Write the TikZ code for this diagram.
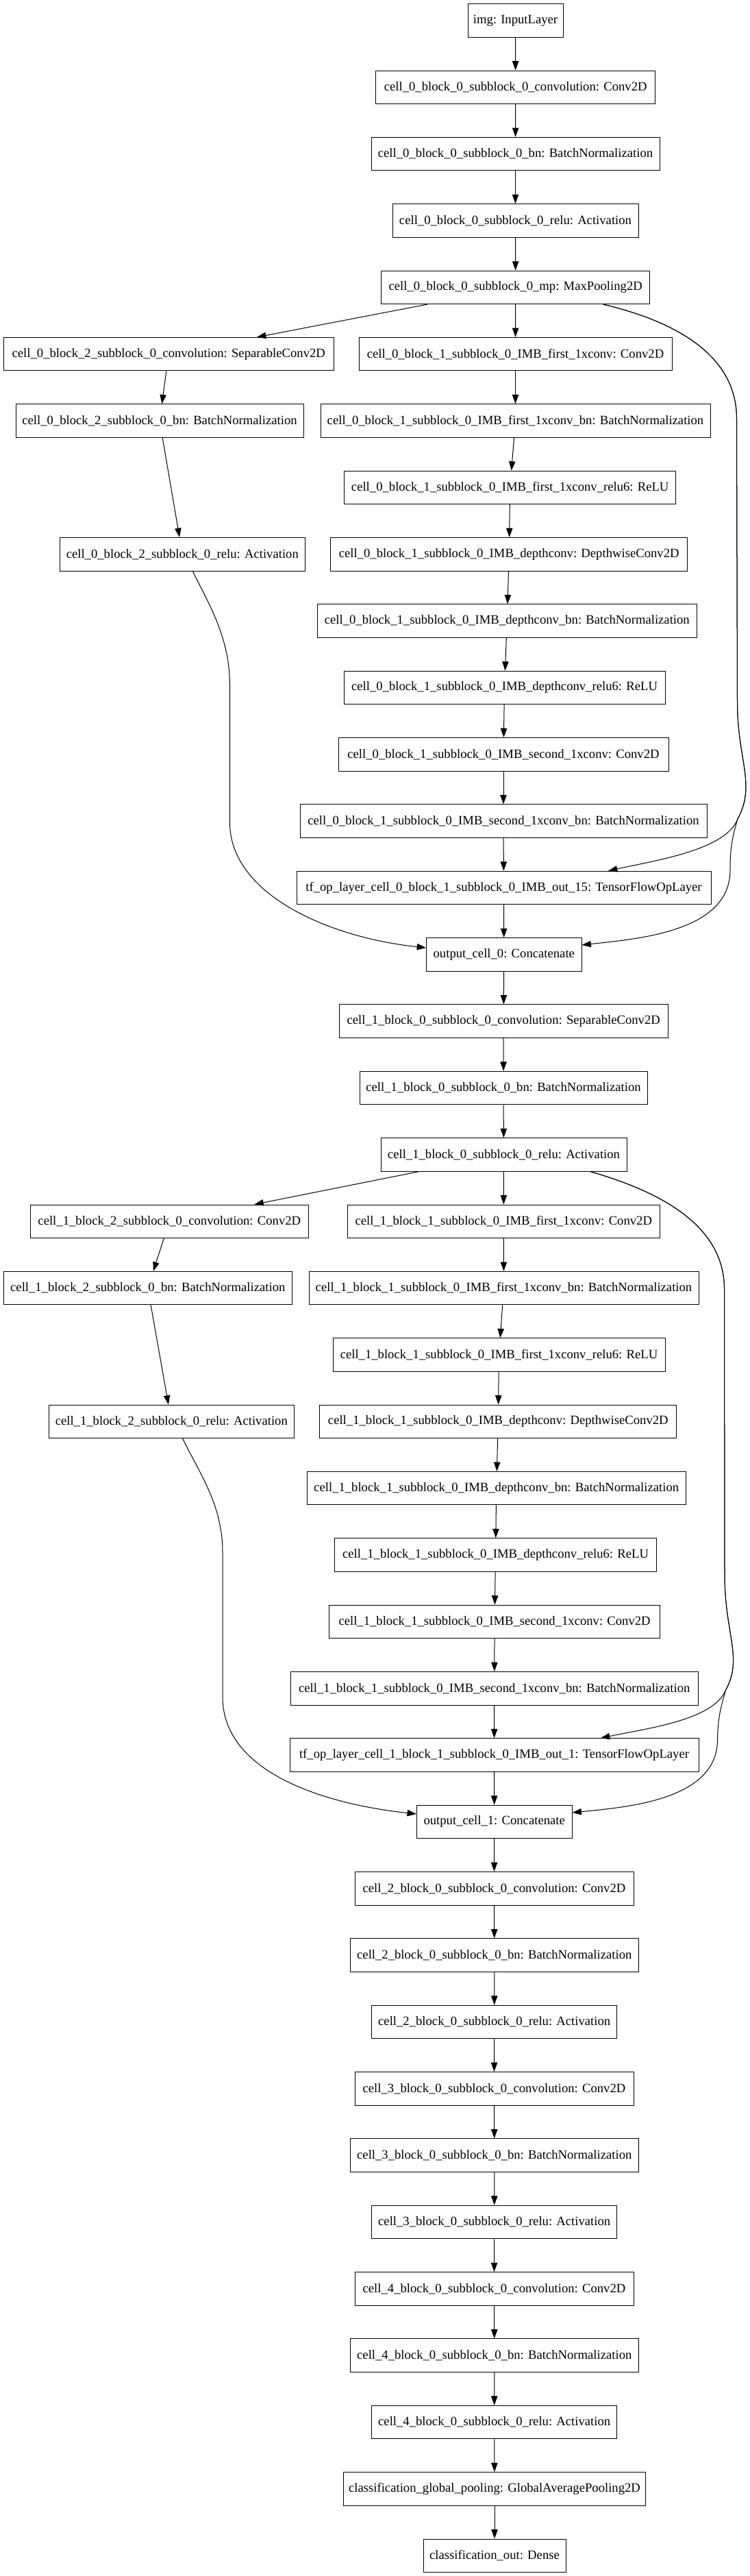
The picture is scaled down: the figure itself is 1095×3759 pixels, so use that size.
\documentclass[tikz,border=0pt]{standalone}
\usepackage{fontspec}
\setmainfont{Liberation Serif}
\usetikzlibrary{arrows.meta}
\begin{document}
\begin{tikzpicture}[x=0.75pt,y=-0.75pt,
  bx/.style={draw, line width=0.75pt, minimum height=36.4pt, inner sep=0pt,
    font=\fontsize{14pt}{16pt}\selectfont, minimum width={#1*0.75pt}},
  ed/.style={line width=0.75pt, -{Triangle[length=10pt,width=7pt]}}]
\fill[white] (0,0) rectangle (1095,3759);
\useasboundingbox (0,0) rectangle (1095,3759);
% cell 0
\node[bx=139] (img) at (752.5,29.95) {img: InputLayer};
\node[bx=407.5] (c0conv) at (752.7,127.3) {cell\_0\_block\_0\_subblock\_0\_convolution: Conv2D};
\node[bx=421] (c0bn) at (752.5,224.65) {cell\_0\_block\_0\_subblock\_0\_bn: BatchNormalization};
\node[bx=359] (c0relu) at (752.5,322.0) {cell\_0\_block\_0\_subblock\_0\_relu: Activation};
\node[bx=392.5] (c0mp) at (752.7,419.35) {cell\_0\_block\_0\_subblock\_0\_mp: MaxPooling2D};
\node[bx=481.4] (c0b2conv) at (246.3,516.7) {cell\_0\_block\_2\_subblock\_0\_convolution: SeparableConv2D};
\node[bx=457] (c0b1a) at (752.5,516.7) {cell\_0\_block\_1\_subblock\_0\_IMB\_first\_1xconv: Conv2D};
\node[bx=420] (c0b2bn) at (233,614.05) {cell\_0\_block\_2\_subblock\_0\_bn: BatchNormalization};
\node[bx=569] (c0b1b) at (752.5,614.05) {cell\_0\_block\_1\_subblock\_0\_IMB\_first\_1xconv\_bn: BatchNormalization};
\node[bx=484.5] (c0b1c) at (744.7,711.4) {cell\_0\_block\_1\_subblock\_0\_IMB\_first\_1xconv\_relu6: ReLU};
\node[bx=358.6] (c0b2relu) at (266.3,808.75) {cell\_0\_block\_2\_subblock\_0\_relu: Activation};
\node[bx=520.5] (c0b1d) at (743.2,808.75) {cell\_0\_block\_1\_subblock\_0\_IMB\_depthconv: DepthwiseConv2D};
\node[bx=554.5] (c0b1e) at (740.3,906.1) {cell\_0\_block\_1\_subblock\_0\_IMB\_depthconv\_bn: BatchNormalization};
\node[bx=469] (c0b1f) at (736.5,1003.45) {cell\_0\_block\_1\_subblock\_0\_IMB\_depthconv\_relu6: ReLU};
\node[bx=482] (c0b1g) at (735,1100.8) {cell\_0\_block\_1\_subblock\_0\_IMB\_second\_1xconv: Conv2D};
\node[bx=594] (c0b1h) at (735,1198.15) {cell\_0\_block\_1\_subblock\_0\_IMB\_second\_1xconv\_bn: BatchNormalization};
\node[bx=605] (c0tf) at (735.5,1295.5) {tf\_op\_layer\_cell\_0\_block\_1\_subblock\_0\_IMB\_out\_15: TensorFlowOpLayer};
\node[bx=226.5] (oc0) at (735.8,1392.85) {output\_cell\_0: Concatenate};
% cell 1
\node[bx=480.4] (c1conv) at (735.2,1490.2) {cell\_1\_block\_0\_subblock\_0\_convolution: SeparableConv2D};
\node[bx=420] (c1bn) at (735,1587.55) {cell\_1\_block\_0\_subblock\_0\_bn: BatchNormalization};
\node[bx=359] (c1relu) at (735.5,1684.9) {cell\_1\_block\_0\_subblock\_0\_relu: Activation};
\node[bx=406.5] (c1b2conv) at (247.3,1782.25) {cell\_1\_block\_2\_subblock\_0\_convolution: Conv2D};
\node[bx=456.5] (c1b1a) at (735.3,1782.25) {cell\_1\_block\_1\_subblock\_0\_IMB\_first\_1xconv: Conv2D};
\node[bx=420.4] (c1b2bn) at (215.8,1879.6) {cell\_1\_block\_2\_subblock\_0\_bn: BatchNormalization};
\node[bx=569] (c1b1b) at (735.5,1879.6) {cell\_1\_block\_1\_subblock\_0\_IMB\_first\_1xconv\_bn: BatchNormalization};
\node[bx=485] (c1b1c) at (728.5,1976.95) {cell\_1\_block\_1\_subblock\_0\_IMB\_first\_1xconv\_relu6: ReLU};
\node[bx=358.5] (c1b2relu) at (250.3,2074.3) {cell\_1\_block\_2\_subblock\_0\_relu: Activation};
\node[bx=521.3] (c1b1d) at (727.3,2074.3) {cell\_1\_block\_1\_subblock\_0\_IMB\_depthconv: DepthwiseConv2D};
\node[bx=553.4] (c1b1e) at (724.7,2171.65) {cell\_1\_block\_1\_subblock\_0\_IMB\_depthconv\_bn: BatchNormalization};
\node[bx=470] (c1b1f) at (723.5,2269.0) {cell\_1\_block\_1\_subblock\_0\_IMB\_depthconv\_relu6: ReLU};
\node[bx=482.8] (c1b1g) at (722.1,2366.35) {cell\_1\_block\_1\_subblock\_0\_IMB\_second\_1xconv: Conv2D};
\node[bx=594.4] (c1b1h) at (721.8,2463.7) {cell\_1\_block\_1\_subblock\_0\_IMB\_second\_1xconv\_bn: BatchNormalization};
\node[bx=597] (c1tf) at (721.5,2561.05) {tf\_op\_layer\_cell\_1\_block\_1\_subblock\_0\_IMB\_out\_1: TensorFlowOpLayer};
\node[bx=226.6] (oc1) at (721.7,2658.4) {output\_cell\_1: Concatenate};
% tail
\node[bx=407] (c2conv) at (721.5,2755.75) {cell\_2\_block\_0\_subblock\_0\_convolution: Conv2D};
\node[bx=420.4] (c2bn) at (721.8,2853.1) {cell\_2\_block\_0\_subblock\_0\_bn: BatchNormalization};
\node[bx=358.5] (c2relu) at (721.7,2950.45) {cell\_2\_block\_0\_subblock\_0\_relu: Activation};
\node[bx=407] (c3conv) at (721.5,3047.8) {cell\_3\_block\_0\_subblock\_0\_convolution: Conv2D};
\node[bx=420.4] (c3bn) at (721.8,3145.15) {cell\_3\_block\_0\_subblock\_0\_bn: BatchNormalization};
\node[bx=358.5] (c3relu) at (721.7,3242.5) {cell\_3\_block\_0\_subblock\_0\_relu: Activation};
\node[bx=407] (c4conv) at (721.5,3339.85) {cell\_4\_block\_0\_subblock\_0\_convolution: Conv2D};
\node[bx=420.4] (c4bn) at (721.8,3437.2) {cell\_4\_block\_0\_subblock\_0\_bn: BatchNormalization};
\node[bx=358.5] (c4relu) at (721.7,3534.55) {cell\_4\_block\_0\_subblock\_0\_relu: Activation};
\node[bx=440.7] (gap) at (722,3631.9) {classification\_global\_pooling: GlobalAveragePooling2D};
\node[bx=208] (dense) at (722,3729.25) {classification\_out: Dense};
% straight edges
\foreach \a/\b in {img/c0conv, c0conv/c0bn, c0bn/c0relu, c0relu/c0mp, c0mp/c0b2conv, c0mp/c0b1a,
  c0b2conv/c0b2bn, c0b2bn/c0b2relu, c0b1a/c0b1b, c0b1b/c0b1c, c0b1c/c0b1d, c0b1d/c0b1e, c0b1e/c0b1f,
  c0b1f/c0b1g, c0b1g/c0b1h, c0b1h/c0tf, c0tf/oc0, oc0/c1conv, c1conv/c1bn, c1bn/c1relu,
  c1relu/c1b2conv, c1relu/c1b1a, c1b2conv/c1b2bn, c1b2bn/c1b2relu, c1b1a/c1b1b, c1b1b/c1b1c,
  c1b1c/c1b1d, c1b1d/c1b1e, c1b1e/c1b1f, c1b1f/c1b1g, c1b1g/c1b1h, c1b1h/c1tf, c1tf/oc1,
  oc1/c2conv, c2conv/c2bn, c2bn/c2relu, c2relu/c3conv, c3conv/c3bn, c3bn/c3relu, c3relu/c4conv,
  c4conv/c4bn, c4bn/c4relu, c4relu/gap, gap/dense}
  \draw[ed] (\a) -- (\b);
% helper coordinates for curved edges
\coordinate (k1) at (880.7,0);
\coordinate (k2) at (888,0);
\coordinate (k3) at (0,1379);
\coordinate (k4) at (281.4,0);
\coordinate (k5) at (0,1383);
\coordinate (k6) at (862,0);
\coordinate (k7) at (877,0);
\coordinate (k8) at (0,2645);
\coordinate (k9) at (266.7,0);
\coordinate (k10) at (0,2647);
% cell 0 skip edges
\draw[ed] (k1 |- c0mp.south) .. controls (990,470) and (1075,520) .. (1075.5,610) -- (1076.5,1026)
  .. controls (1077,1110) and (1104,1145) .. (1077,1195)
  .. controls (1060,1240) and (960,1255) .. (k2 |- c0tf.north);
\draw[ed] (k1 |- c0mp.south) .. controls (990,470) and (1075,520) .. (1075.5,610) -- (1076.5,1026)
  .. controls (1077,1110) and (1104,1145) .. (1077,1195)
  .. controls (1068,1225) and (1066,1240) .. (1066,1270)
  .. controls (1066,1360) and (930,1370) .. (oc0.east |- k3);
\draw[ed] (k4 |- c0b2relu.south) .. controls (305,882) and (335.5,930) .. (335.5,1000) -- (335.5,1200)
  .. controls (335.5,1305) and (480,1368) .. (oc0.west |- k5);
% cell 1 skip edges
\draw[ed] (k6 |- c1relu.south) .. controls (968,1740) and (1057,1790) .. (1057.5,1880) -- (1058,2300)
  .. controls (1058.5,2385) and (1085,2420) .. (1059.6,2466)
  .. controls (1042,2510) and (945,2522) .. (k7 |- c1tf.north);
\draw[ed] (k6 |- c1relu.south) .. controls (968,1740) and (1057,1790) .. (1057.5,1880) -- (1058,2300)
  .. controls (1058.5,2385) and (1085,2420) .. (1059.6,2466)
  .. controls (1051,2495) and (1048,2510) .. (1047.5,2540)
  .. controls (1046,2627) and (915,2637) .. (oc1.east |- k8);
\draw[ed] (k9 |- c1b2relu.south) .. controls (290,2148) and (325,2195) .. (325,2265) -- (325,2476)
  .. controls (325,2585) and (470,2632) .. (oc1.west |- k10);
\end{tikzpicture}
\end{document}
